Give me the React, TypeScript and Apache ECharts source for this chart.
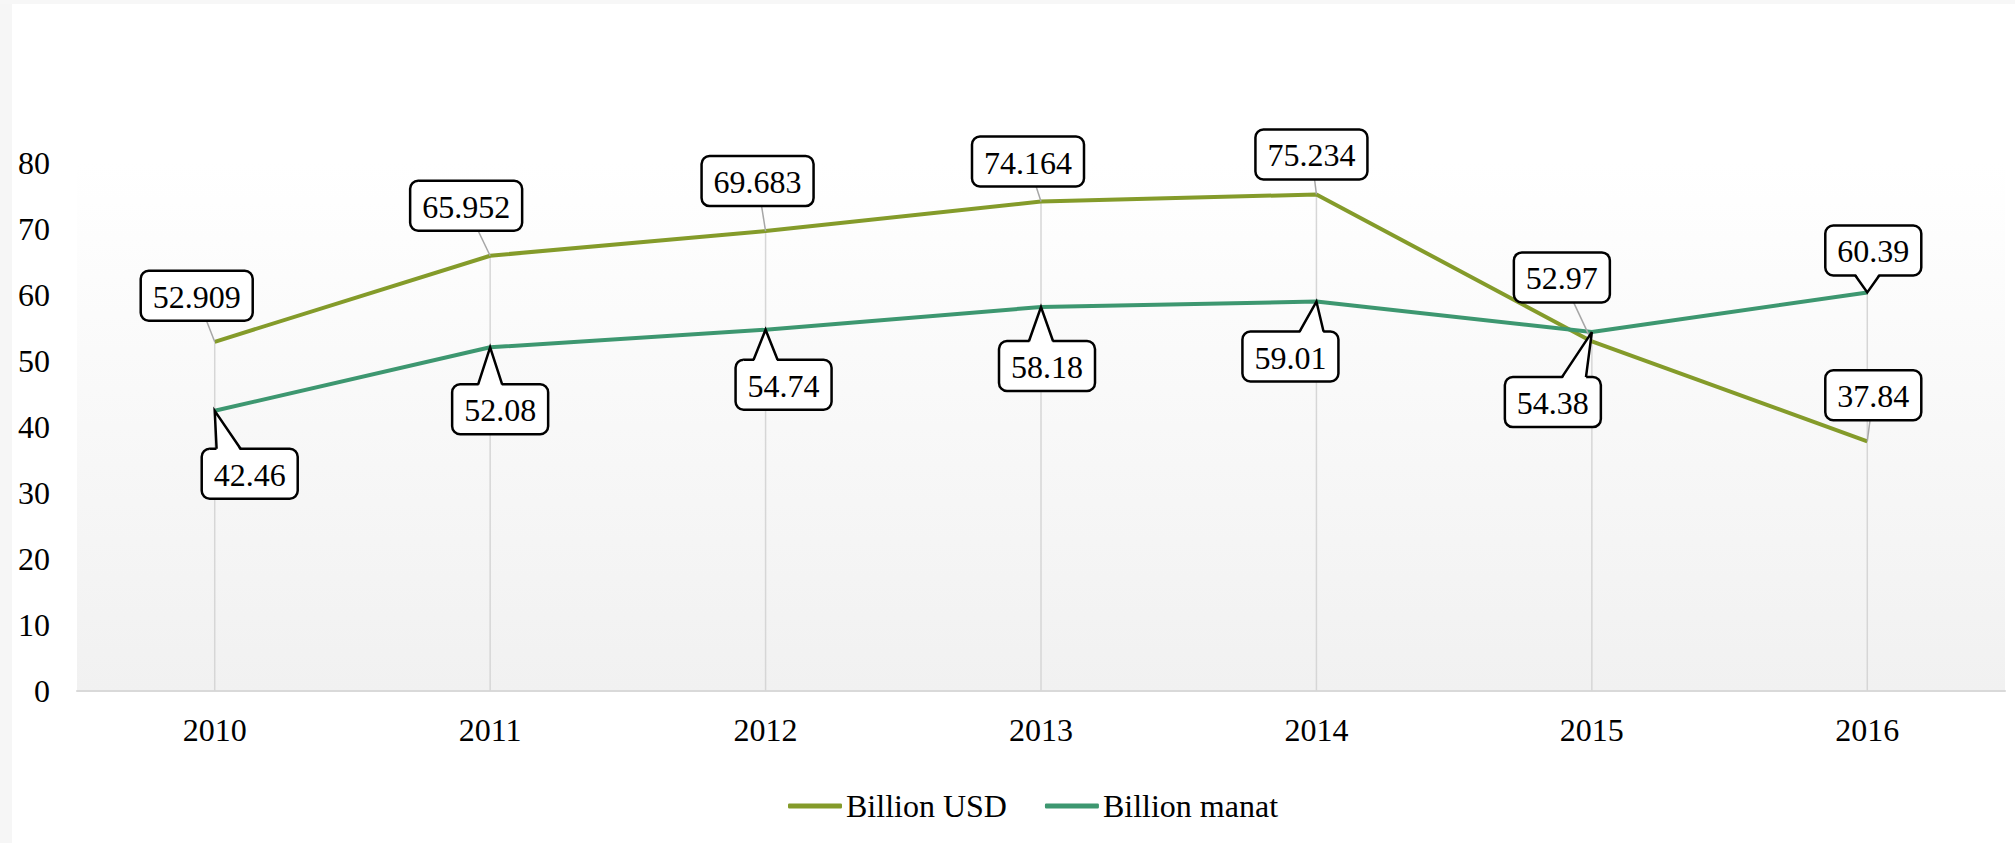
import React, { useEffect, useRef } from "react";
import * as echarts from "echarts";

const years = ["2010", "2011", "2012", "2013", "2014", "2015", "2016"];
const usdValues = [52.909, 65.952, 69.683, 74.164, 75.234, 52.97, 37.84];
const manatValues = [42.46, 52.08, 54.74, 58.18, 59.01, 54.38, 60.39];
const yTicks = { min: 0, max: 80, interval: 10 };

// label box offsets (px) from the data point — layout only
const usdLabelOffsets = [[-18, -46], [-24, -50], [-8, -50], [-13, -40], [-5, -40], [-30, -64], [6, -46]];
const manatLabelOffsets = [[35, 63], [10, 62], [18, 55], [6, 59], [-26, 55], [-39, 70], [6, -42]];

const FONT = "'Times New Roman', 'Liberation Serif', serif";
const FS = 32;
const USD_COLOR = "#849b2a";
const MANAT_COLOR = "#3d9770";

function textWidth(s: string): number {
  let w = 0;
  for (const ch of s) w += ch === "." ? 0.25 : 0.5;
  return w * FS;
}

function labelSeries(name: string, values: number[], offsets: number[][], callout: boolean) {
  return {
    type: "custom",
    name,
    coordinateSystem: "cartesian2d",
    z: 10,
    silent: true,
    clip: false,
    data: values.map((v, i) => [i, v]),
    renderItem: (params: any, api: any) => {
      const i = params.dataIndex;
      const v = api.value(1);
      const p = api.coord([api.value(0), v]);
      const txt = String(values[i]);
      const bw = textWidth(txt) + 24;
      const bh = 50;
      const cx = p[0] + offsets[i][0];
      const cy = p[1] + offsets[i][1];
      const left = cx - bw / 2;
      const top = cy - bh / 2;
      const children: any[] = [];
      children.push({
        type: "line",
        shape: { x1: p[0], y1: p[1], x2: cx, y2: cy },
        style: { stroke: "#a6a6a6", lineWidth: 1.5 },
      });
      children.push({
        type: "rect",
        shape: { x: left, y: top, width: bw, height: bh, r: 8 },
        style: { fill: "#ffffff", stroke: "#000000", lineWidth: 2.5 },
      });
      if (callout) {
        const above = p[1] < top;
        const edgeY = above ? top : top + bh;
        const inner = above ? edgeY + 2.5 : edgeY - 2.5;
        const bx = Math.min(Math.max(p[0], left + bw * 0.28), left + bw * 0.72);
        const hw = 12;
        children.push({
          type: "polygon",
          shape: { points: [[bx - hw, inner], [p[0], p[1]], [bx + hw, inner]] },
          style: { fill: "#ffffff" },
        });
        children.push({
          type: "polyline",
          shape: { points: [[bx - hw, edgeY], [p[0], p[1]], [bx + hw, edgeY]] },
          style: { stroke: "#000000", lineWidth: 2.5, fill: null, lineJoin: "miter" },
        });
      }
      children.push({
        type: "text",
        style: {
          text: txt,
          x: cx,
          y: cy + 1,
          align: "center",
          verticalAlign: "middle",
          fontSize: FS,
          fontFamily: FONT,
          fill: "#000000",
        },
      });
      return { type: "group", children };
    },
  };
}

export default function App() {
  const ref = useRef<HTMLDivElement>(null);
  useEffect(() => {
    document.body.style.margin = "0";
    const chart = echarts.init(ref.current!, null, { renderer: "svg" });
    const dropData = years.map((_, i) => [i, Math.max(usdValues[i], manatValues[i])]);
    chart.setOption({
      animation: false,
      backgroundColor: "#ffffff",
      graphic: [
        { type: "rect", left: 0, top: 0, shape: { width: 12, height: 843 }, style: { fill: "#f6f6f6" }, silent: true },
        { type: "rect", left: 0, top: 0, shape: { width: 2015, height: 4 }, style: { fill: "#f7f7f7" }, silent: true },
      ],
      grid: {
        left: 77,
        right: 10,
        top: 163,
        bottom: 152,
        show: true,
        borderWidth: 0,
        backgroundColor: {
          type: "linear",
          x: 0,
          y: 0,
          x2: 0,
          y2: 1,
          colorStops: [
            { offset: 0, color: "#ffffff" },
            { offset: 1, color: "#f1f1f1" },
          ],
        },
      },
      legend: {
        left: 783,
        top: 785,
        icon: "roundRect",
        itemWidth: 54,
        itemHeight: 5,
        itemGap: 38,
        data: ["Billion USD", "Billion manat"],
        textStyle: { fontSize: FS, fontFamily: FONT, color: "#000000", padding: [0, 0, 0, -1] },
      },
      xAxis: {
        type: "category",
        data: years,
        boundaryGap: true,
        axisLine: { lineStyle: { color: "#d9d9d9", width: 2 } },
        axisTick: { show: false },
        axisLabel: { fontSize: FS, fontFamily: FONT, color: "#000000", margin: 23 },
        splitLine: { show: false },
      },
      yAxis: {
        type: "value",
        min: yTicks.min,
        max: yTicks.max,
        interval: yTicks.interval,
        axisLine: { show: false },
        axisTick: { show: false },
        splitLine: { show: false },
        axisLabel: { fontSize: FS, fontFamily: FONT, color: "#000000", margin: 27 },
      },
      series: [
        {
          type: "custom",
          name: "drop",
          coordinateSystem: "cartesian2d",
          z: 1,
          silent: true,
          data: dropData,
          renderItem: (params: any, api: any) => {
            const top = api.coord([api.value(0), api.value(1)]);
            const bottom = api.coord([api.value(0), 0]);
            return {
              type: "line",
              shape: { x1: top[0], y1: top[1], x2: bottom[0], y2: bottom[1] },
              style: { stroke: "#d6d6d6", lineWidth: 1.5 },
            };
          },
        },
        {
          type: "line",
          name: "Billion USD",
          data: usdValues,
          symbol: "none",
          z: 3,
          itemStyle: { color: USD_COLOR },
          lineStyle: { color: USD_COLOR, width: 4 },
        },
        {
          type: "line",
          name: "Billion manat",
          data: manatValues,
          symbol: "none",
          z: 3,
          itemStyle: { color: MANAT_COLOR },
          lineStyle: { color: MANAT_COLOR, width: 4 },
        },
        labelSeries("usd labels", usdValues, usdLabelOffsets, false),
        labelSeries("manat labels", manatValues, manatLabelOffsets, true),
      ],
    });
    return () => chart.dispose();
  }, []);
  return <div ref={ref} style={{ position: "fixed", left: 0, top: 0, width: 2015, height: 843 }} />;
}
